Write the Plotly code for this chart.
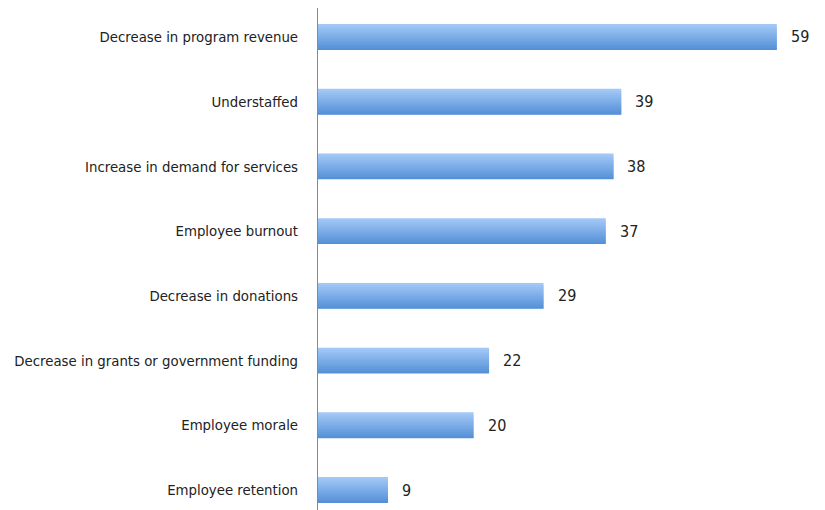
import plotly.graph_objects as go

categories = [
    "Decrease in program revenue",
    "Understaffed",
    "Increase in demand for services",
    "Employee burnout",
    "Decrease in donations",
    "Decrease in grants or government funding",
    "Employee morale",
    "Employee retention",
]
values = [59, 39, 38, 37, 29, 22, 20, 9]

FONT = "DejaVu Sans Condensed, Roboto Condensed, Roboto, sans-serif"
TEXT_COLOR = "#222222"

# vertical gradient for the bars: light on top, darker at the bottom
top_rgb = (162, 200, 246)
bot_rgb = (86, 145, 216)
n_bands = 12
bar_w = 0.4

fig = go.Figure()

band = bar_w / n_bands
for i in range(n_bands):
    t = i / (n_bands - 1)
    c = tuple(round(a + (b - a) * t) for a, b in zip(top_rgb, bot_rgb))
    w = min(band * 1.8, bar_w - i * band)
    fig.add_trace(go.Bar(
        y=categories, x=values, orientation="h",
        width=w, offset=-bar_w / 2 + i * band,
        marker=dict(color=f"rgb{c}", line=dict(width=0)),
        hoverinfo="skip", textposition="none",
    ))

# value labels to the right of each bar
for cat, v in zip(categories, values):
    fig.add_annotation(
        x=v, y=cat, text=str(v), showarrow=False,
        xanchor="left", yanchor="middle", xshift=12,
        font=dict(family=FONT, size=16, color=TEXT_COLOR),
    )

fig.update_layout(
    width=825, height=510,
    margin=dict(l=318, r=0, t=8, b=0, autoexpand=False),
    paper_bgcolor="white", plot_bgcolor="white",
    barmode="overlay", showlegend=False,
    font=dict(family=FONT, size=15, color=TEXT_COLOR),
)
fig.update_xaxes(range=[0, 65.2], visible=False, showgrid=False, zeroline=False)
fig.update_yaxes(
    type="category", categoryorder="array", categoryarray=categories,
    range=[7.309, -0.448], automargin=False,
    showgrid=False, zeroline=False,
    showline=True, linecolor="#8a8a8a", linewidth=1,
    ticks="", ticklabelstandoff=16,
    tickfont=dict(family=FONT, size=14.8, color=TEXT_COLOR),
)

fig.write_html("out.html")
